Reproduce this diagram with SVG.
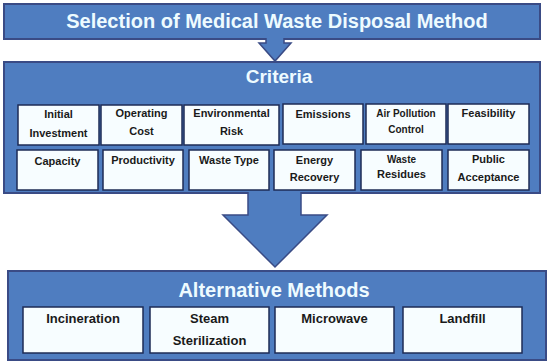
<svg xmlns="http://www.w3.org/2000/svg" width="550" height="364" viewBox="0 0 550 364">
<style>
.panel{fill:#4f7dc0;stroke:#3a4b85;stroke-width:2}
.arrow{fill:#4f7dc0;stroke:#3a4b85;stroke-width:1.5}
.item{fill:#f7fdff;stroke:#1e2b55;stroke-width:1.5}
.ht{font-family:"Liberation Sans",Arial,sans-serif;font-weight:bold;fill:#eefbff;text-anchor:middle}
.it{font-family:"Liberation Sans",Arial,sans-serif;font-weight:bold;fill:#1a1a1a;text-anchor:middle;font-size:11px}
.sm{font-size:10px}
.alt{font-size:13px}
</style>
<rect width="550" height="364" fill="#ffffff"/>
<g id="title">
<rect class="panel" x="4" y="4" width="536" height="35"/>
<text class="ht" x="277" y="28" font-size="20">Selection of Medical Waste Disposal Method</text>
</g>
<g id="criteria">
<rect class="panel" x="4" y="62" width="536" height="131"/>
<text class="ht" x="279" y="83" font-size="19">Criteria</text>
</g>
<g id="c-initial-investment"><rect class="item" x="18" y="105" width="81" height="40"/><text class="it" x="58.5" y="118">Initial</text><text class="it" x="58.5" y="137">Investment</text></g>
<g id="c-operating-cost"><rect class="item" x="101" y="105" width="81" height="40"/><text class="it" x="141.5" y="117">Operating</text><text class="it" x="141.5" y="135">Cost</text></g>
<g id="c-environmental-risk"><rect class="item" x="184" y="105" width="95" height="40"/><text class="it" x="231.5" y="117">Environmental</text><text class="it" x="231.5" y="135">Risk</text></g>
<g id="c-emissions"><rect class="item" x="283" y="104" width="80" height="40"/><text class="it" x="323" y="118">Emissions</text></g>
<g id="c-air-pollution-control"><rect class="item" x="366" y="104" width="80" height="40"/><text class="it sm" x="406" y="117">Air Pollution</text><text class="it sm" x="406" y="133">Control</text></g>
<g id="c-feasibility"><rect class="item" x="448" y="104" width="81" height="40"/><text class="it" x="488.5" y="117">Feasibility</text></g>
<g id="c-capacity"><rect class="item" x="17" y="150" width="81" height="40"/><text class="it" x="57.5" y="165">Capacity</text></g>
<g id="c-productivity"><rect class="item" x="103" y="150" width="80" height="40"/><text class="it" x="143" y="164">Productivity</text></g>
<g id="c-waste-type"><rect class="item" x="189" y="150" width="80" height="40"/><text class="it" x="229" y="164">Waste Type</text></g>
<g id="c-energy-recovery"><rect class="item" x="274" y="150" width="81" height="40"/><text class="it" x="314.5" y="164">Energy</text><text class="it" x="314.5" y="181">Recovery</text></g>
<g id="c-waste-residues"><rect class="item" x="361" y="150" width="81" height="40"/><text class="it sm" x="401.5" y="163">Waste</text><text class="it" x="401.5" y="178">Residues</text></g>
<g id="c-public-acceptance"><rect class="item" x="448" y="150" width="81" height="40"/><text class="it" x="488.5" y="163">Public</text><text class="it" x="488.5" y="181">Acceptance</text></g>
<g id="alternatives">
<rect class="panel" x="8" y="271" width="538" height="89"/>
<text class="ht" x="274" y="297" font-size="20">Alternative Methods</text>
</g>
<g id="a-incineration"><rect class="item" x="23" y="307" width="120" height="46"/><text class="it alt" x="83" y="323">Incineration</text></g>
<g id="a-steam-sterilization"><rect class="item" x="150" y="307" width="119" height="46"/><text class="it alt" x="209.5" y="323">Steam</text><text class="it alt" x="209.5" y="345">Sterilization</text></g>
<g id="a-microwave"><rect class="item" x="275" y="307" width="119" height="46"/><text class="it alt" x="334.5" y="323">Microwave</text></g>
<g id="a-landfill"><rect class="item" x="403" y="307" width="119" height="46"/><text class="it alt" x="462.5" y="323">Landfill</text></g>
<g id="connectors">
<path class="arrow" d="M266,38 V43 H259 L275,61 L291,43 H284 V38"/>
<path class="arrow" d="M248,192 V215 H223 L275,267 L327,215 H301 V192"/>
</g>
</svg>
